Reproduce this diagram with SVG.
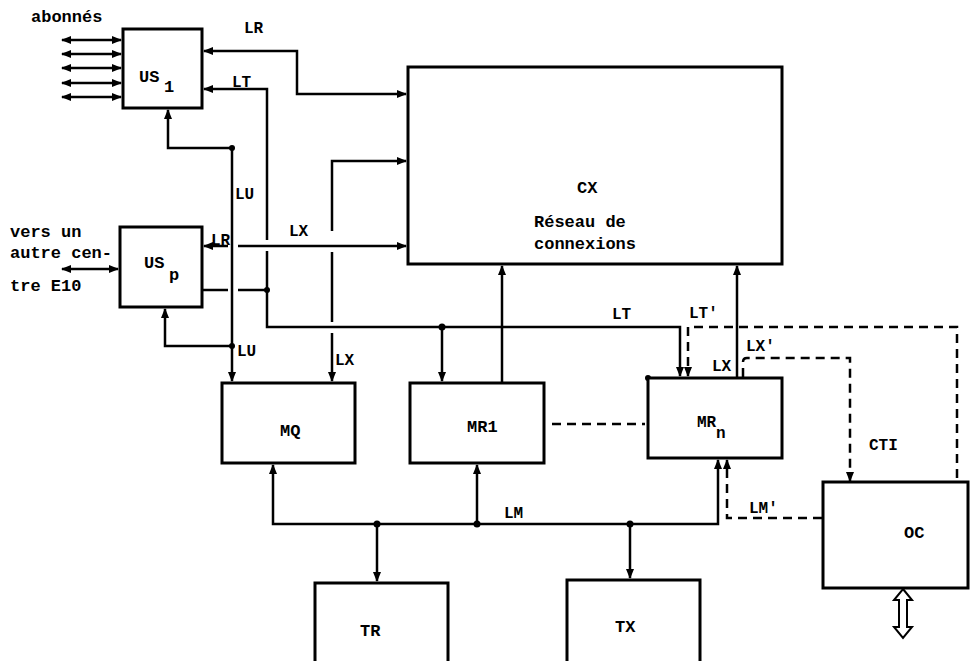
<svg xmlns="http://www.w3.org/2000/svg" width="973" height="661" viewBox="0 0 973 661">
<defs>
<marker id="ar" markerUnits="userSpaceOnUse" markerWidth="10" markerHeight="8" refX="9" refY="4" orient="auto-start-reverse"><path d="M0,0 L10,4 L0,8 z" fill="#000"/></marker>
<style>
.ln{stroke:#000;stroke-width:2.5;fill:none}
.ds{stroke-dasharray:9 6}
.box{fill:#fff;stroke:#000;stroke-width:3}
.t{font-family:"Liberation Mono",monospace;font-weight:bold;font-size:17px;fill:#000}
.s{font-size:16px}
.dot{fill:#000}
</style>
</defs>
<rect width="973" height="661" fill="#fff"/>
<g id="connectors">
<g class="ln">
<path d="M62,40 L121,40" marker-start="url(#ar)" marker-end="url(#ar)"/>
<path d="M62,54 L121,54" marker-start="url(#ar)" marker-end="url(#ar)"/>
<path d="M62,68 L121,68" marker-start="url(#ar)" marker-end="url(#ar)"/>
<path d="M62,83 L121,83" marker-start="url(#ar)" marker-end="url(#ar)"/>
<path d="M62,97 L121,97" marker-start="url(#ar)" marker-end="url(#ar)"/>
<path d="M62,269 L118,269" marker-start="url(#ar)" marker-end="url(#ar)"/>
<path d="M406,94 L297,94 L297,51 L204,51" marker-start="url(#ar)" marker-end="url(#ar)"/>
<path d="M204,89 L267,89 L267,240" marker-start="url(#ar)"/>
<path d="M267,251 L267,327 L680,327 L680,376" marker-end="url(#ar)"/>
<path d="M168,110 L168,148 L232,148 L232,381" marker-start="url(#ar)" marker-end="url(#ar)"/>
<path d="M165,309 L165,346 L232,346" marker-start="url(#ar)"/>
<path d="M204,246 L228,246" marker-start="url(#ar)"/>
<path d="M238,246 L406,246" marker-end="url(#ar)"/>
<path d="M202,290 L228,290"/>
<path d="M238,290 L267,290"/>
<path d="M406,161 L332,161 L332,231" marker-start="url(#ar)"/>
<path d="M332,252 L332,322"/>
<path d="M332,333 L332,381" marker-end="url(#ar)"/>
<path d="M442,327 L442,381" marker-end="url(#ar)"/>
<path d="M502,383 L502,266" marker-end="url(#ar)"/>
<path d="M737,378 L737,266" marker-end="url(#ar)"/>
<path d="M273,465 L273,524 L718,524 L718,460" marker-start="url(#ar)" marker-end="url(#ar)"/>
<path d="M377,524 L377,581" marker-end="url(#ar)"/>
<path d="M477,524 L477,465" marker-end="url(#ar)"/>
<path d="M630,524 L630,578" marker-end="url(#ar)"/>
</g>
<g class="ln ds">
<path d="M688,327 L688,376" marker-end="url(#ar)"/>
<path d="M694,327 L957,327 L957,481"/>
<path d="M743,377 L743,362 Q743,358 747,358 L850,358 L850,481" marker-end="url(#ar)"/>
<path d="M552,424 L645,424"/>
<path d="M822,518 L727,518 L727,460" marker-end="url(#ar)"/>
<path d="M330,615 L330,638"/>
</g>
<polygon points="903,589 912,600 907,600 907,627 912,627 903,638 894,627 899,627 899,600 894,600" fill="#fff" stroke="#000" stroke-width="2"/>
<circle class="dot" cx="232" cy="148" r="3"/>
<circle class="dot" cx="232" cy="346" r="3"/>
<circle class="dot" cx="267" cy="290" r="3"/>
<circle class="dot" cx="442" cy="327" r="3.5"/>
<circle class="dot" cx="377" cy="524" r="3.5"/>
<circle class="dot" cx="477" cy="524" r="3.5"/>
<circle class="dot" cx="630" cy="524" r="3.5"/>
<circle class="dot" cx="648" cy="378" r="3"/>
</g>
<g id="US1"><rect class="box" x="123" y="29" width="79" height="79"/><text class="t" x="139" y="82">US</text><text class="t" x="164" y="92">1</text></g>
<g id="USp"><rect class="box" x="120" y="227" width="82" height="80"/><text class="t" x="144" y="268">US</text><text class="t" x="169" y="280">p</text></g>
<g id="CX"><rect class="box" x="408" y="67" width="374" height="197"/><text class="t" x="577" y="193">CX</text><text class="t" x="534" y="227">Réseau de</text><text class="t" x="534" y="249">connexions</text></g>
<g id="MQ"><rect class="box" x="222" y="383" width="133" height="80"/><text class="t" x="280" y="436">MQ</text></g>
<g id="MR1"><rect class="box" x="410" y="383" width="134" height="80"/><text class="t" x="467" y="432">MR1</text></g>
<g id="MRn"><rect class="box" x="648" y="378" width="134" height="80"/><text class="t s" x="697" y="427">MR</text><text class="t s" x="716" y="438">n</text></g>
<g id="OC"><rect class="box" x="823" y="482" width="145" height="106"/><text class="t" x="904" y="538">OC</text></g>
<g id="TR"><rect class="box" x="315" y="583" width="133" height="90"/><text class="t" x="360" y="636">TR</text></g>
<g id="TX"><rect class="box" x="567" y="580" width="133" height="90"/><text class="t" x="615" y="632">TX</text></g>
<g id="labels">
<text class="t" x="31" y="22" font-size="18">abonnés</text>
<text class="t" x="10" y="237">vers un</text>
<text class="t" x="10" y="258">autre cen-</text>
<text class="t" x="10" y="291">tre E10</text>
<text class="t s" x="244" y="33">LR</text>
<text class="t s" x="232" y="87">LT</text>
<text class="t s" x="235" y="199">LU</text>
<text class="t s" x="211" y="245">LR</text>
<text class="t s" x="289" y="236">LX</text>
<text class="t s" x="237" y="356">LU</text>
<text class="t s" x="335" y="365">LX</text>
<text class="t s" x="612" y="319">LT</text>
<text class="t s" x="689" y="318">LT'</text>
<text class="t s" x="746" y="351">LX'</text>
<text class="t s" x="712" y="371">LX</text>
<text class="t s" x="869" y="450">CTI</text>
<text class="t s" x="504" y="518">LM</text>
<text class="t s" x="749" y="513">LM'</text>
</g>
</svg>
